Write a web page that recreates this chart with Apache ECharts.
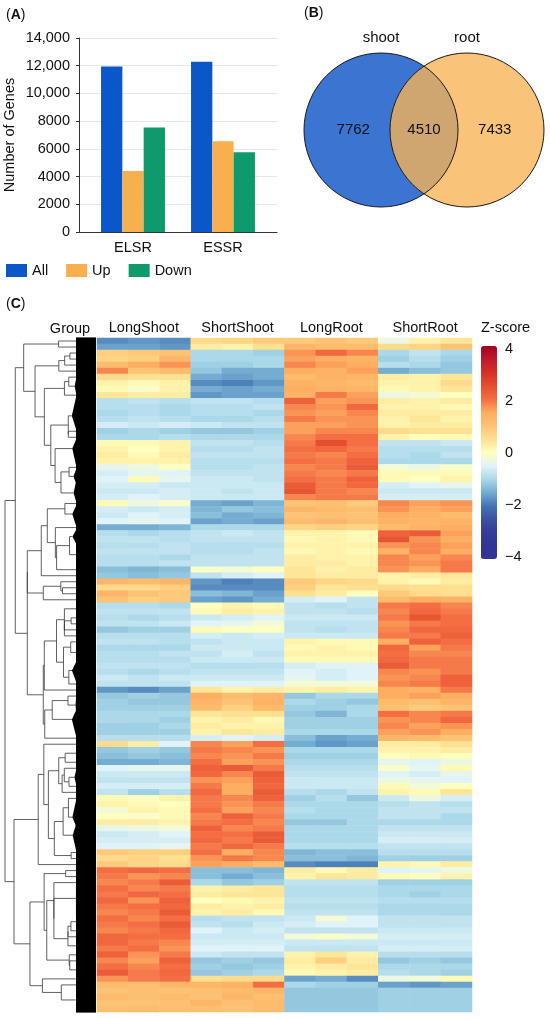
<!DOCTYPE html>
<html>
<head>
<meta charset="utf-8">
<script src="https://cdn.jsdelivr.net/npm/echarts@6/dist/echarts.min.js"></script>
<style>
  html, body { margin: 0; padding: 0; background: #fff; }
  #main { width: 550px; height: 1019px; }
</style>
</head>
<body>
<div id="main"></div>
<script>
// ---- panel A: DEG counts ----
var categories = ['ELSR', 'ESSR'];
var allGenes = [11950, 12290];
var upGenes = [4400, 6540];
var downGenes = [7550, 5750];

// ---- panel B: venn ----
var vennSets = ['shoot', 'root'];
var vennCounts = [7762, 4510, 7433]; // shoot only, shared, root only

// ---- panel C: heatmap (z-scores, 3 replicates per group, rows top to bottom) ----
var groups = ['LongShoot', 'ShortShoot', 'LongRoot', 'ShortRoot'];
var longShoot = [
  [-1.8,-1.7,-1.8],[-1.6,-1.6,-1.7],[0.8,0.9,1.0],[0.7,0.8,1.3],
  [1.2,1.5,1.7],[1.8,1.0,1.2],[0.6,0.5,0.5],[0.2,0.1,0.2],
  [0.1,-0.1,0.2],[0.4,0.3,0.3],[-0.9,-0.8,-0.9],[-0.9,-0.9,-1.0],
  [-1.0,-0.9,-1.0],[-0.9,-0.8,-0.9],[-0.6,-0.7,-0.6],[-1.1,-1.0,-1.1],
  [-1.0,-1.0,-0.9],[0.1,0.1,0.2],[0.2,0.0,0.2],[0.3,0.1,0.3],
  [0.2,0.2,0.2],[-0.4,-0.3,0.0],[-0.6,-0.4,-0.5],[-0.5,0.1,-0.4],
  [-0.6,-0.6,-0.7],[-0.7,-0.7,-0.6],[-0.6,-0.5,-0.6],[0.1,-0.3,-0.1],
  [-0.6,-0.7,-0.6],[-0.7,-0.5,-0.6],[-0.5,-0.4,-0.5],[-1.5,-1.5,-1.4],
  [-0.9,-1.0,-0.9],[-0.8,-0.8,-0.9],[-0.9,-0.9,-0.8],[-0.8,-0.8,-0.8],
  [-0.9,-0.9,-1.0],[-0.9,-0.9,-0.8],[-1.3,-1.4,-1.3],[-1.2,-1.3,-1.2],
  [1.3,1.2,1.3],[0.6,0.6,0.8],[1.3,1.0,0.9],[1.0,0.8,0.9],
  [-0.9,-0.9,-1.0],[-0.8,-0.8,-0.8],[-0.9,-1.0,-0.9],[-0.8,-0.8,-0.7],
  [-1.2,-1.1,-1.1],[-0.9,-0.9,-0.9],[-0.8,-0.8,-0.9],[-1.0,-1.0,-1.0],
  [-0.9,-0.9,-0.8],[-0.9,-0.9,-0.9],[-0.8,-0.8,-0.8],[-0.9,-1.0,-0.9],
  [-0.7,-0.8,-0.7],[-0.8,-0.8,-0.8],[-1.7,-1.8,-1.6],[-1.2,-1.1,-1.2],
  [-1.1,-1.2,-1.2],[-1.1,-1.1,-1.1],[-1.0,-1.0,-1.0],[-1.0,-1.0,-1.1],
  [-1.1,-1.1,-1.0],[-1.1,-1.1,-1.1],[-0.9,-0.9,-0.9],[0.6,0.3,-0.5],
  [-1.2,-1.1,-1.2],[-1.3,-1.2,-1.3],[-1.5,-1.5,-1.4],[-0.5,-0.4,-0.4],
  [-0.7,-0.7,-0.7],[-0.8,-0.8,-0.8],[-0.6,-0.6,-0.6],[-0.8,-1.1,-0.9],
  [0.1,0.0,0.2],[0.2,0.1,0.0],[-0.2,0.2,0.1],[0.0,-0.1,0.1],
  [0.3,0.3,0.2],[-0.4,-0.3,-0.2],[-0.7,-0.6,-0.5],[-0.6,-0.6,-0.6],
  [-0.5,-0.5,-0.4],[0.9,0.8,0.8],[0.6,0.7,0.5],[0.9,0.7,0.6],
  [2.0,2.1,2.0],[1.9,1.7,1.8],[1.8,1.9,2.3],[2.0,1.8,1.9],
  [1.9,2.1,2.0],[2.1,1.7,2.2],[1.9,2.0,2.1],[1.8,1.9,2.3],
  [2.0,1.8,2.0],[1.9,2.0,2.3],[1.8,1.9,2.1],[2.1,2.0,2.0],
  [2.1,1.9,1.8],[1.9,2.0,1.7],[2.2,1.7,1.9],[1.8,1.6,2.2],
  [2.0,1.8,2.0],[2.3,1.9,2.1],[1.7,1.9,2.0],[1.2,1.1,1.3],
  [1.0,1.1,1.0],[1.2,1.1,1.2],[1.0,1.0,1.1],[1.1,1.2,1.1]
];
var shortShoot = [
  [0.6,0.7,0.9],[0.3,0.2,0.5],[-1.0,-1.0,-1.1],[-1.0,-1.0,-1.0],
  [-1.1,-1.1,-1.0],[-1.2,-1.5,-1.5],[-1.5,-1.6,-1.5],[-1.8,-1.9,-1.7],
  [-1.5,-1.6,-1.5],[-1.7,-1.6,-1.6],[-0.8,-0.8,-0.9],[-0.9,-0.9,-0.8],
  [-0.9,-0.9,-1.0],[-1.0,-1.0,-0.9],[-0.7,-0.8,-0.8],[-1.2,-1.2,-1.1],
  [-1.0,-1.0,-1.0],[-0.8,-0.8,-0.9],[-0.9,-0.9,-0.8],[-0.8,-0.8,-0.8],
  [-0.9,-0.9,-0.9],[-0.9,-0.9,-0.8],[-0.8,-0.8,-0.8],[-0.7,-0.7,-0.8],
  [-0.7,-0.7,-0.7],[-0.7,-0.8,-0.7],[-0.7,-0.7,-0.7],[-1.5,-1.6,-1.4],
  [-1.4,-1.2,-1.3],[-1.3,-1.5,-1.4],[-1.6,-1.5,-1.6],[-1.0,-1.0,-1.0],
  [-0.8,-0.7,-0.8],[-0.8,-0.8,-0.8],[-0.9,-0.9,-0.9],[-0.9,-0.9,-0.8],
  [-0.8,-0.8,-0.8],[-0.8,-0.8,-0.8],[-0.1,-0.2,0.0],[-0.8,-0.6,-0.5],
  [-1.7,-1.9,-1.8],[-1.8,-1.8,-1.8],[-1.3,-1.4,-1.6],[-1.6,-1.7,-1.5],
  [0.0,0.2,0.1],[0.1,0.3,0.2],[-0.7,-0.6,-0.5],[-0.5,-0.4,-0.2],
  [0.1,0.0,0.0],[-0.6,-0.7,-0.6],[-0.8,-0.7,-0.7],[-0.7,-0.7,-0.7],
  [-0.8,-0.6,-0.8],[-0.7,-0.7,-0.7],[-0.9,-0.9,-0.9],[-0.8,-0.8,-0.8],
  [-0.7,-0.7,-0.7],[-0.5,-0.5,-0.5],[0.4,0.2,0.3],[1.5,1.2,1.3],
  [1.3,1.0,1.4],[1.2,0.8,1.2],[0.4,0.5,0.5],[0.2,0.3,0.1],
  [0.3,0.2,0.2],[0.2,0.4,0.3],[-0.6,-0.5,-0.6],[1.8,1.6,2.0],
  [1.9,1.8,1.7],[1.8,1.7,1.9],[2.0,1.6,1.7],[2.2,2.3,1.9],
  [2.1,1.8,2.3],[1.7,1.6,2.2],[1.9,1.5,2.1],[2.1,1.5,2.3],
  [1.9,1.8,2.2],[1.9,1.7,1.9],[2.0,1.6,1.8],[1.8,2.2,1.9],
  [1.9,2.0,1.8],[2.2,1.8,1.9],[2.0,2.0,2.3],[2.1,1.9,2.3],
  [1.9,2.1,1.9],[2.0,1.5,1.8],[1.7,1.9,1.8],[1.6,1.5,1.2],
  [-1.3,-1.3,-1.4],[-1.3,-1.5,-1.3],[-1.0,-1.2,-1.1],[0.2,0.3,0.4],
  [0.3,0.4,0.4],[0.0,0.1,0.2],[0.3,0.2,0.3],[0.2,0.3,0.1],
  [-0.9,-0.8,-0.8],[-0.8,-0.9,-0.7],[-0.5,-0.7,-0.6],[-0.7,-0.7,-0.7],
  [-0.6,-0.6,-0.6],[-0.5,-0.5,-0.5],[-0.7,-0.8,-0.8],[-1.2,-1.1,-1.2],
  [-1.1,-1.2,-1.1],[-1.2,-1.1,-1.0],[0.5,0.6,0.6],[1.3,1.4,2.0],
  [1.1,1.2,1.3],[1.0,1.3,1.1],[1.3,1.1,1.2],[1.1,1.0,1.2]
];
var longRoot = [
  [0.9,1.0,0.9],[1.3,1.2,1.2],[1.7,2.1,1.8],[1.6,1.5,1.4],
  [1.8,1.6,1.5],[1.5,1.4,1.6],[1.2,1.4,1.3],[1.4,1.3,1.2],
  [1.5,1.4,1.3],[1.4,1.9,1.6],[2.2,1.6,1.7],[1.8,1.7,2.1],
  [1.7,1.6,1.8],[1.9,1.7,1.7],[1.6,1.6,1.7],[1.6,1.8,1.8],
  [1.8,2.0,2.0],[1.9,2.5,2.0],[2.0,2.1,1.9],[1.9,1.8,2.0],
  [2.0,1.9,2.2],[1.8,1.9,2.3],[1.9,1.8,1.9],[2.0,1.9,2.2],
  [2.3,1.9,2.1],[2.4,1.9,1.8],[1.8,1.9,1.9],[1.0,1.1,0.9],
  [1.3,1.2,1.1],[1.0,1.1,1.0],[1.2,1.3,1.1],[0.7,0.8,0.7],
  [0.2,0.2,0.1],[0.1,0.2,0.1],[0.2,0.2,0.2],[0.1,0.2,0.1],
  [0.3,0.2,0.2],[0.3,0.3,0.2],[0.4,0.2,0.3],[0.4,0.3,0.3],
  [0.9,0.7,0.6],[0.8,0.4,0.5],[0.5,0.3,0.0],[-0.6,-0.5,-0.8],
  [-0.8,-0.9,-0.8],[-0.8,-0.8,-0.9],[-0.7,-0.7,-0.7],[-0.8,-0.8,-0.8],
  [-0.8,-0.9,-0.8],[-0.7,-0.7,-0.7],[0.2,0.1,0.1],[0.1,0.2,0.1],
  [0.2,0.2,0.2],[0.1,0.1,0.1],[-0.6,-0.5,-0.5],[-0.5,-0.6,-0.5],
  [-0.4,-0.6,-0.5],[-0.2,-0.2,-0.2],[0.2,0.3,0.2],[-1.2,-1.0,-1.0],
  [-1.0,-1.1,-1.2],[-1.1,-1.1,-1.0],[-1.2,-1.4,-1.0],[-1.1,-1.1,-1.1],
  [-1.1,-1.1,-1.1],[-1.0,-1.0,-1.0],[-1.3,-1.6,-1.5],[-1.5,-1.7,-1.6],
  [-1.0,-1.0,-1.0],[-1.1,-1.1,-1.1],[-1.0,-1.0,-1.0],[-0.9,-0.9,-0.9],
  [-0.8,-0.8,-0.8],[-0.7,-0.7,-0.7],[-0.7,-0.7,-0.7],[-0.9,-1.0,-0.8],
  [-1.1,-0.9,-1.2],[-1.0,-1.0,-1.0],[-0.9,-1.0,-1.0],[-1.0,-1.0,-1.0],
  [-1.2,-1.2,-1.0],[-1.0,-1.0,-1.0],[-1.0,-1.0,-1.0],[-1.0,-1.0,-1.0],
  [-0.9,-0.9,-0.9],[-1.4,-1.3,-1.3],[-1.3,-1.3,-1.4],[-1.8,-1.9,-1.9],
  [0.3,0.1,0.3],[0.2,0.4,0.3],[-0.8,-0.8,-0.8],[-0.9,-0.9,-0.9],
  [-0.9,-0.9,-0.9],[-0.8,-0.8,-0.8],[-0.9,-0.9,-0.9],[-0.8,-0.8,-0.8],
  [-0.7,-0.2,-0.5],[-0.6,-0.5,-0.5],[-0.8,-0.8,-0.8],[-0.2,-0.1,-0.2],
  [-0.7,-0.7,-0.7],[-0.8,-0.8,-0.8],[0.2,0.4,0.2],[0.3,0.8,0.3],
  [0.2,0.3,0.4],[0.1,0.2,0.3],[-1.6,-1.5,-1.8],[-1.0,-1.1,-1.1],
  [-1.2,-1.2,-1.2],[-1.2,-1.2,-1.2],[-1.2,-1.2,-1.2],[-1.2,-1.2,-1.2]
];
var shortRoot = [
  [-0.3,0.2,0.4],[0.6,0.7,1.0],[-1.0,-0.8,-1.0],[-1.1,-0.9,-1.1],
  [-0.9,-1.0,-1.2],[-1.5,-1.3,-1.2],[0.3,0.2,0.4],[0.2,0.2,0.6],
  [0.1,0.2,0.4],[-0.3,-0.2,0.0],[0.3,0.2,0.3],[0.2,0.2,0.1],
  [0.3,0.3,0.3],[0.2,0.4,0.2],[0.2,0.3,0.3],[0.6,0.5,0.5],
  [0.2,0.0,0.1],[-0.8,-0.8,-0.7],[-0.9,-0.9,-0.9],[-0.9,-1.0,-0.8],
  [-1.0,-1.0,-1.0],[-0.2,-0.3,-0.1],[0.1,0.1,0.1],[0.1,0.0,0.2],
  [-0.6,-0.5,-0.4],[-0.7,-0.7,-0.7],[-0.6,-0.6,-0.6],[1.8,1.6,1.7],
  [1.7,1.5,1.6],[1.5,1.4,1.2],[1.4,1.3,1.4],[1.2,1.4,1.5],
  [2.2,2.3,1.6],[2.4,1.7,1.5],[1.7,1.8,1.6],[1.4,1.8,1.5],
  [1.8,1.6,1.8],[1.8,1.7,1.9],[1.7,1.5,1.9],[0.2,0.3,0.4],
  [0.2,0.1,0.3],[0.6,0.5,0.5],[0.9,0.6,0.5],[1.2,1.5,1.4],
  [1.9,2.0,1.8],[1.8,2.1,1.9],[1.9,2.4,2.0],[1.7,1.9,2.0],
  [1.8,2.1,2.1],[1.9,1.9,2.2],[1.5,2.2,2.0],[2.1,1.6,1.9],
  [2.0,1.8,1.8],[2.1,1.9,1.9],[2.3,1.9,1.9],[1.8,1.7,1.9],
  [1.7,1.8,2.2],[1.8,1.9,2.2],[1.5,1.4,1.9],[1.5,1.6,1.5],
  [1.2,1.1,1.3],[1.1,0.9,1.0],[2.0,1.8,1.9],[1.7,1.8,2.1],
  [1.8,1.6,1.7],[1.6,1.7,1.5],[1.3,1.2,1.0],[0.3,0.3,0.5],
  [0.2,0.2,0.3],[0.0,0.1,0.0],[-0.4,-0.5,-0.3],[-0.1,-0.4,0.1],
  [-0.5,-0.6,-0.4],[-0.3,-0.4,-0.5],[0.1,-0.2,0.0],[0.2,0.1,0.4],
  [-0.7,-0.3,-0.6],[-0.9,-0.8,-0.9],[-0.8,-0.8,-0.8],[-0.8,-0.8,-1.0],
  [-1.0,-1.0,-1.0],[-0.8,-0.8,-0.8],[-0.7,-0.7,-0.7],[-0.6,-0.6,-0.6],
  [-0.8,-0.8,-0.8],[-0.9,-0.9,-0.9],[-1.1,-1.1,-1.1],[0.2,0.1,0.3],
  [-0.5,-0.4,-0.3],[0.1,0.0,0.2],[-1.1,-1.1,-1.1],[-1.0,-1.0,-1.0],
  [-1.0,-1.1,-1.0],[-0.9,-0.9,-0.9],[-1.0,-1.0,-1.0],[-1.0,-1.0,-1.0],
  [-0.8,-0.8,-0.8],[-0.8,-0.8,-0.8],[-0.7,-0.7,-0.7],[-0.6,-0.6,-0.6],
  [-0.7,-0.7,-0.7],[-0.6,-0.6,-0.6],[-0.9,-0.9,-0.9],[-1.2,-1.1,-1.2],
  [-1.0,-1.0,-1.0],[-0.9,-1.0,-1.1],[-0.3,-0.2,0.1],[-1.6,-1.7,-1.6],
  [-1.1,-1.1,-1.1],[-1.1,-1.1,-1.1],[-1.1,-1.1,-1.1],[-1.1,-1.1,-1.1]
];
var zColors = ['#313695', '#313695', '#333c99', '#3b52a3', '#4575b4', '#74add1', '#abd9e9', '#e0f3f8',
  '#ffffbf', '#fee090', '#fdc374', '#fdae61', '#f46d43', '#e4502f', '#d73027', '#bf1a2a', '#a50026'];

var font = 'Liberation Sans';
var ink = '#111';

// build heatmap matrix
var samples = [];
groups.forEach(function (g) { [1, 2, 3].forEach(function (k) { samples.push(g + '_' + k); }); });
var rowNames = longShoot.map(function (r, i) { return 'gene' + (i + 1); });
var matrix = rowNames.map(function (n, i) {
  return [].concat(longShoot[i], shortShoot[i], longRoot[i], shortRoot[i]);
});
var heatData = [];
matrix.forEach(function (row, i) {
  row.forEach(function (v, j) { heatData.push([j, i, v]); });
});

// ordered (adjacent-only) average-linkage clustering for the row dendrogram
function clusterRows(m) {
  var n = m.length, d = [];
  for (var i = 0; i < n; i++) {
    d.push([]);
    for (var j = 0; j < n; j++) {
      var s = 0;
      for (var k = 0; k < m[i].length; k++) s += (m[i][k] - m[j][k]) * (m[i][k] - m[j][k]);
      d[i].push(Math.sqrt(s));
    }
  }
  var nodes = m.map(function (r, i) { return { lo: i, hi: i, h: 0, y: i, kids: null }; });
  while (nodes.length > 1) {
    var best = 0, bestD = Infinity;
    for (var p = 0; p < nodes.length - 1; p++) {
      var a = nodes[p], b = nodes[p + 1], sum = 0;
      for (var x = a.lo; x <= a.hi; x++) for (var y = b.lo; y <= b.hi; y++) sum += d[x][y];
      sum /= (a.hi - a.lo + 1) * (b.hi - b.lo + 1);
      if (sum < bestD) { bestD = sum; best = p; }
    }
    var l = nodes[best], r = nodes[best + 1];
    nodes.splice(best, 2, { lo: l.lo, hi: r.hi, h: Math.max(bestD, l.h, r.h), y: (l.y + r.y) / 2, kids: [l, r] });
  }
  return nodes[0];
}
var tree = clusterRows(matrix);
function th(h) { return Math.pow(h / tree.h, 0.6); }
var WEDGE = 0.27, BAND = 0.22;
// item: [t, y, tA, yA, tB, yB, kind, lo, hi]; kind 0 bracket, 1 dense leaf fan
var dendroItems = [];
(function walk(node) {
  var t = th(node.h);
  if (!node.kids || t < WEDGE) { dendroItems.push([t, node.y, 0, node.y, 0, node.y, 1, node.lo, node.hi]); return; }
  var a = node.kids[0], b = node.kids[1];
  dendroItems.push([t, node.y, th(a.h), a.y, th(b.h), b.y, 0, node.lo, node.hi]);
  walk(a); walk(b);
})(tree);

function renderDendro(params, api) {
  if (api.value(6) === 1) {
    var lo = api.value(7) - 0.6, hi = api.value(8) + 0.6;
    var p = api.coord([Math.max(api.value(0), BAND), api.value(1)]);
    var b1 = api.coord([BAND, lo]), b2 = api.coord([BAND, hi]);
    var e1 = api.coord([0, lo]), e2 = api.coord([0, hi]);
    return { type: 'polygon', shape: { points: [p, b1, e1, e2, b2] }, style: { fill: '#000' } };
  }
  var c = api.coord([api.value(0), api.value(1)]);
  var a = api.coord([Math.max(api.value(2), BAND), api.value(3)]);
  var b = api.coord([Math.max(api.value(4), BAND), api.value(5)]);
  return {
    type: 'polyline',
    shape: { points: [[a[0], a[1]], [c[0], a[1]], [c[0], b[1]], [b[0], b[1]]] },
    style: { stroke: '#3a3a3a', lineWidth: 0.8, fill: null }
  };
}

// venn layout (grid units == px inside the venn grid)
var vennR = 77, vennC = [[77, 77], [163, 77]];
function renderVenn(params, api) {
  var c1 = api.coord(vennC[0]), c2 = api.coord(vennC[1]);
  var r = api.size([vennR, 0])[0];
  var half = (c2[0] - c1[0]) / 2, hh = Math.sqrt(r * r - half * half);
  var mx = c1[0] + half, cy = c1[1];
  var al = Math.atan2(hh, half);
  var lens = [], i, t;
  for (i = 0; i <= 40; i++) {
    t = -al + 2 * al * i / 40;
    lens.push([c1[0] + r * Math.cos(t), cy + r * Math.sin(t)]);
  }
  for (i = 0; i <= 40; i++) {
    t = Math.PI - al + 2 * al * i / 40;
    lens.push([c2[0] + r * Math.cos(t), cy + r * Math.sin(t)]);
  }
  var txt = function (x, y, s) {
    return { type: 'text', style: { x: x, y: y, text: s, fill: ink, font: '15px "' + font + '"', align: 'center', verticalAlign: 'middle' } };
  };
  return {
    type: 'group',
    children: [
      { type: 'circle', shape: { cx: c1[0], cy: cy, r: r }, style: { fill: '#3b74d1' } },
      { type: 'circle', shape: { cx: c2[0], cy: cy, r: r }, style: { fill: '#f9c47a' } },
      { type: 'polygon', shape: { points: lens }, style: { fill: '#cfa570' } },
      { type: 'circle', shape: { cx: c1[0], cy: cy, r: r }, style: { fill: null, stroke: '#1a1a1a', lineWidth: 1 } },
      { type: 'circle', shape: { cx: c2[0], cy: cy, r: r }, style: { fill: null, stroke: '#1a1a1a', lineWidth: 1 } },
      txt(c1[0] - 0.36 * r, cy, String(api.value(0))),
      txt(mx, cy, String(api.value(1))),
      txt(c2[0] + 0.36 * r, cy, String(api.value(2))),
      txt(c1[0], cy - r - 15, vennSets[0]),
      txt(c2[0], cy - r - 15, vennSets[1])
    ]
  };
}

var chart = echarts.init(document.getElementById('main'));
var hidden = { show: false };
var panelTag = function (letter, x, y) {
  return { type: 'text', left: x, top: y, style: { text: '({b|' + letter + '})', font: '14px "' + font + '"', fill: ink,
    rich: { b: { fontWeight: 'bold', fontSize: 14, fontFamily: font } } } };
};
var option = {
  animation: false,
  backgroundColor: '#fff',
  textStyle: { fontFamily: font, color: ink },
  graphic: [
    panelTag('A', 6, 8),
    panelTag('B', 304, 6),
    panelTag('C', 6, 297),
    { type: 'text', x: 70, y: 329, style: { text: 'Group', font: '14.5px "' + font + '"', fill: ink, align: 'center', verticalAlign: 'middle' } },
    { type: 'text', x: 481, y: 328, style: { text: 'Z-score', font: '14.5px "' + font + '"', fill: ink, align: 'left', verticalAlign: 'middle' } }
  ],
  legend: {
    data: ['All', 'Up', 'Down'],
    left: 6, top: 263, padding: 0,
    itemWidth: 21, itemHeight: 13, itemGap: 18, icon: 'rect',
    textStyle: { fontSize: 14.5, color: ink }
  },
  grid: [
    { left: 79, top: 38, width: 198, height: 194 },
    { left: 88, top: 38, width: 180, height: 194 },
    { left: 304, top: 53, width: 240, height: 154 },
    { left: 97, top: 338, width: 375, height: 674 },
    { left: 5, top: 338, width: 91, height: 674 },
    { left: 481, top: 349, width: 16, height: 208 }
  ],
  xAxis: [
    { gridIndex: 0, type: 'value', min: 0, max: 1, axisLine: { show: true, lineStyle: { color: '#333' } },
      axisTick: hidden, axisLabel: hidden, splitLine: hidden },
    { gridIndex: 1, type: 'category', data: categories, axisLine: hidden, axisTick: hidden,
      axisLabel: { margin: 8, fontSize: 14.5, color: ink } },
    { gridIndex: 2, type: 'value', min: 0, max: 240, show: false },
    { gridIndex: 3, type: 'category', data: samples, show: false },
    { gridIndex: 3, type: 'category', data: groups, position: 'top', axisLine: hidden, axisTick: hidden,
      axisLabel: { interval: 0, margin: 3, fontSize: 14.5, color: ink } },
    { gridIndex: 4, type: 'value', min: 0, max: 1, inverse: true, show: false },
    { gridIndex: 5, type: 'value', min: 0, max: 1, show: false }
  ],
  yAxis: [
    { gridIndex: 0, type: 'value', min: 0, max: 14000, interval: 2000,
      name: 'Number of Genes', nameLocation: 'middle', nameGap: 62,
      nameTextStyle: { fontSize: 14.5, color: ink },
      axisLine: { show: true, lineStyle: { color: '#333' } },
      axisTick: { show: true, length: 3, lineStyle: { color: '#333' } },
      axisLabel: { margin: 9, fontSize: 14.5, color: ink,
        formatter: function (v) { return v >= 10000 ? v.toLocaleString('en-US') : String(v); } },
      splitLine: { show: true, lineStyle: { color: '#e8e8e8', width: 1 } } },
    { gridIndex: 1, type: 'value', min: 0, max: 14000, show: false },
    { gridIndex: 2, type: 'value', min: 0, max: 154, inverse: true, show: false },
    { gridIndex: 3, type: 'category', data: rowNames, inverse: true, show: false },
    { gridIndex: 4, type: 'value', min: -0.5, max: rowNames.length - 0.5, inverse: true, show: false },
    { gridIndex: 5, type: 'value', min: -4, max: 4, interval: 2, position: 'right',
      axisLine: hidden, splitLine: hidden,
      axisTick: { show: true, length: 3, lineStyle: { color: '#333' } },
      axisLabel: { margin: 8, fontSize: 14.5, color: ink,
        formatter: function (v) { return String(v).replace('-', '\u2212'); } } }
  ],
  visualMap: {
    type: 'continuous', seriesIndex: 3, min: -4, max: 4,
    left: 481, top: 346, itemWidth: 16, itemHeight: 213, padding: 0,
    calculable: false, text: null, hoverLink: false,
    inRange: { color: zColors }
  },
  series: [
    { name: 'All', type: 'bar', xAxisIndex: 1, yAxisIndex: 1, data: allGenes, barWidth: 21.3, barGap: '0%', itemStyle: { color: '#0b56c9' } },
    { name: 'Up', type: 'bar', xAxisIndex: 1, yAxisIndex: 1, data: upGenes, barWidth: 21.3, barGap: '0%', itemStyle: { color: '#f8b04f' } },
    { name: 'Down', type: 'bar', xAxisIndex: 1, yAxisIndex: 1, data: downGenes, barWidth: 21.3, barGap: '0%', itemStyle: { color: '#0e9a6c' } },
    { type: 'heatmap', xAxisIndex: 3, yAxisIndex: 3, data: heatData, progressive: 0, emphasis: { disabled: true } },
    { type: 'custom', xAxisIndex: 5, yAxisIndex: 4, data: dendroItems, renderItem: renderDendro, silent: true },
    { type: 'custom', xAxisIndex: 2, yAxisIndex: 2, data: [vennCounts], renderItem: renderVenn, silent: true }
  ]
};
chart.setOption(option);
</script>
</body>
</html>
